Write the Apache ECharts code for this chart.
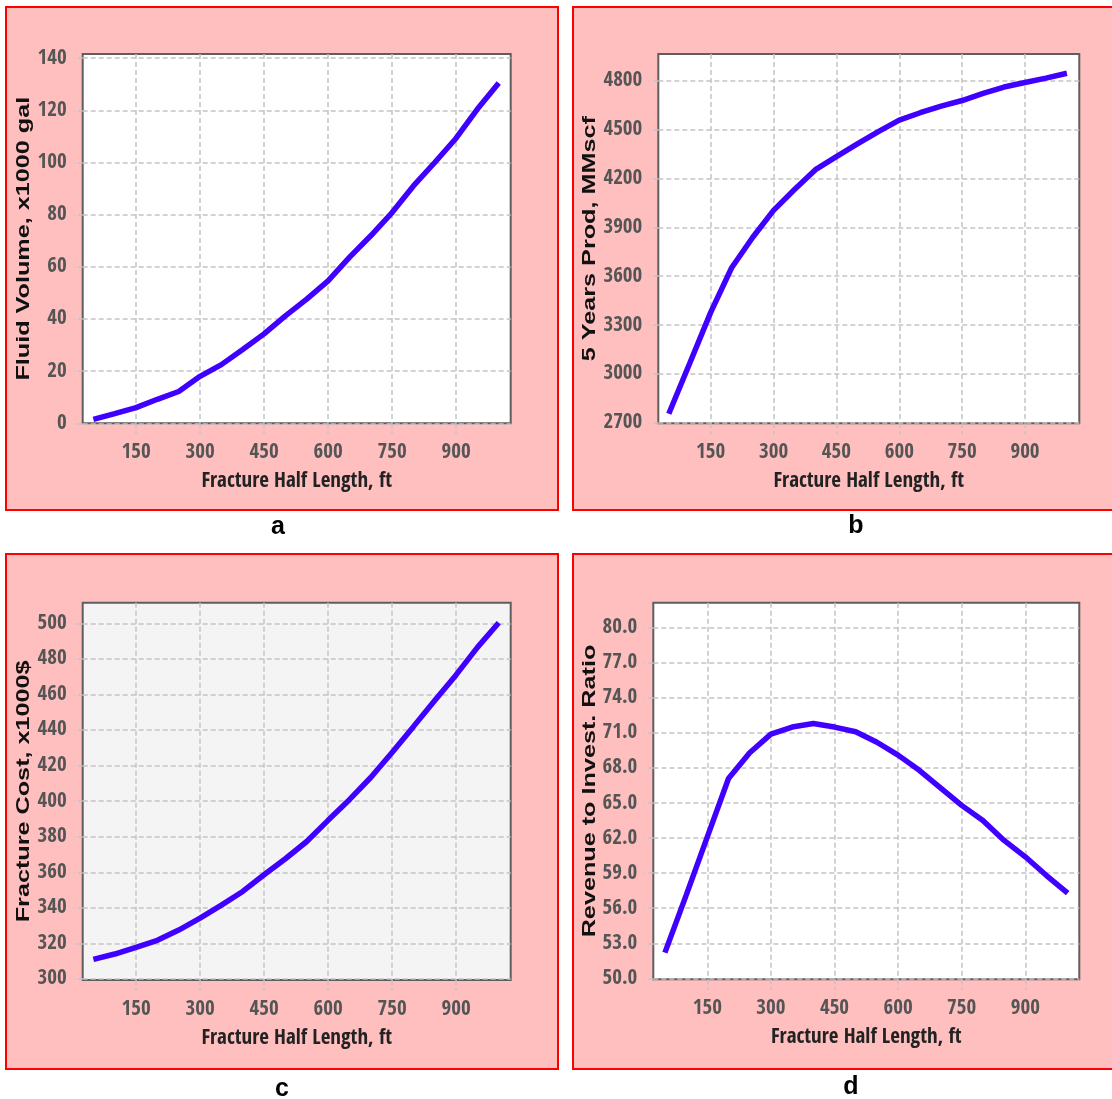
<!DOCTYPE html>
<html>
<head>
<meta charset="utf-8">
<title>Fracture half length sensitivity</title>
<script src="https://cdn.jsdelivr.net/npm/echarts@6/dist/echarts.min.js"></script>
<style>
  html, body { margin: 0; padding: 0; background: #fff; }
  #chart { width: 1112px; height: 1099px; }
</style>
</head>
<body>
<div id="chart"></div>
<script>
// fracture half length, ft (x for every panel)
const halfLength = [50, 100, 150, 200, 250, 300, 350, 400, 450, 500,
  550, 600, 650, 700, 750, 800, 850, 900, 950, 1000];

// a - fluid volume, x1000 gal
const fluidVolume = [1.5, 3.7, 6.0, 9.2, 12.2, 18.0, 22.5, 28.3, 34.3, 41.2,
  47.6, 54.6, 63.6, 71.9, 80.8, 91.0, 100.0, 109.3, 120.5, 130.5];
// b - 5 years production, MMscf
const prod5yr = [2755, 3065, 3378, 3652, 3838, 4005, 4133, 4255, 4335, 4413,
  4489, 4560, 4605, 4646, 4680, 4724, 4763, 4791, 4818, 4848];
// c - fracture cost, x1000$
const fracCost = [311, 314, 317.8, 321.7, 327.5, 334.2, 341.5, 349.2, 358.6, 367.6,
  377.3, 389.2, 400.8, 413.3, 427.4, 441.9, 456.6, 471, 486.5, 500.3];
// d - revenue to investment ratio
const revRatio = [52.2, 57.1, 62.1, 67.1, 69.3, 70.9, 71.5, 71.8, 71.5, 71.1,
  70.2, 69.1, 67.8, 66.3, 64.8, 63.5, 61.8, 60.4, 58.8, 57.3];

// tick labels
const xTicks = [150, 300, 450, 600, 750, 900];
const volumeTicks = [0, 20, 40, 60, 80, 100, 120, 140];
const prodTicks = [2700, 3000, 3300, 3600, 3900, 4200, 4500, 4800];
const costTicks = [300, 320, 340, 360, 380, 400, 420, 440, 460, 480, 500];
const ratioTicks = [50, 53, 56, 59, 62, 65, 68, 71, 74, 77, 80];

const narrow = '"Liberation Sans Narrow", "Noto Sans ExtraCondensed", "Noto Sans Condensed", ' +
  '"Open Sans Condensed", "DejaVu Sans Condensed", sans-serif';
const plain = '"Liberation Sans", Arial, sans-serif';
const lineColor = '#4000ff';
const gridLine = { color: '#c4c4c4', type: [5, 3], width: 1.5 };

const panels = [
  { box: [6, 7, 552, 503], grid: [82.7, 54, 428, 369.3], x: [25, 1028], y: [0, 141.6],
    ticks: volumeTicks, data: fluidVolume, bg: '#fff', title: 'Fluid Volume, x1000 gal',
    titleX: 24, letter: 'a', letterPos: [278, 527], fmt: v => String(v) },
  { box: [573, 7, 545, 503], grid: [658.3, 54, 421, 369.3], x: [25, 1029.6], y: [2696, 4966],
    ticks: prodTicks, data: prod5yr, bg: '#fff', title: '5 Years Prod, MMscf',
    titleX: 590, letter: 'b', letterPos: [856, 526], fmt: v => String(v) },
  { box: [6, 554, 552, 515], grid: [82.7, 602.7, 428, 377.3], x: [25, 1028], y: [299.4, 511.6],
    ticks: costTicks, data: fracCost, bg: '#f4f4f4', title: 'Fracture Cost, x1000$',
    titleX: 24, letter: 'c', letterPos: [282, 1089], fmt: v => String(v) },
  { box: [573, 554, 545, 515], grid: [653.3, 602.7, 426, 376.6], x: [22.6, 1027.4], y: [49.92, 82.14],
    ticks: ratioTicks, data: revRatio, bg: '#fff', title: 'Revenue to Invest. Ratio',
    titleX: 590, letter: 'd', letterPos: [851, 1087], fmt: v => v.toFixed(1) }
];

const grids = [], xAxes = [], yAxes = [], series = [], graphics = [];

panels.forEach((p, i) => {
  graphics.push({
    type: 'rect', z: -100, silent: true,
    shape: { x: p.box[0], y: p.box[1], width: p.box[2], height: p.box[3] },
    style: { fill: '#ffbfbf', stroke: '#ff0000', lineWidth: 2 }
  });
  graphics.push({
    type: 'text', z: 10, x: p.titleX, y: p.grid[1] + p.grid[3] / 2,
    rotation: Math.PI / 2, scaleX: 1.4,
    style: { text: p.title, font: 'bold 18px ' + plain, fill: '#111',
      textAlign: 'center', textVerticalAlign: 'middle', align: 'center', verticalAlign: 'middle' }
  });
  graphics.push({
    type: 'text', z: 10, x: p.letterPos[0], y: p.letterPos[1],
    style: { text: p.letter, font: 'bold 25px ' + plain, fill: '#000',
      textAlign: 'center', textVerticalAlign: 'middle', align: 'center', verticalAlign: 'middle' }
  });

  grids.push({
    left: p.grid[0], top: p.grid[1], width: p.grid[2], height: p.grid[3],
    show: true, backgroundColor: p.bg, borderColor: '#5e5e5e', borderWidth: 2
  });

  xAxes.push({
    type: 'value', gridIndex: i, min: p.x[0], max: p.x[1],
    name: 'Fracture Half Length, ft', nameLocation: 'middle', nameGap: 48,
    nameTextStyle: { fontFamily: narrow, fontWeight: 'bold', fontSize: 21, color: '#222' },
    axisLine: { show: false },
    axisTick: { show: true, length: 11, customValues: xTicks, lineStyle: gridLine },
    axisLabel: { customValues: xTicks, margin: 19, fontFamily: narrow, fontWeight: 'bold',
      fontSize: 21, color: '#555' },
    splitLine: { show: true, lineStyle: gridLine }
  });

  yAxes.push({
    type: 'value', gridIndex: i, min: p.y[0], max: p.y[1],
    axisLine: { show: false },
    axisTick: { show: true, length: 9, customValues: p.ticks, lineStyle: gridLine },
    axisLabel: { customValues: p.ticks, margin: 16, fontFamily: narrow, fontWeight: 'bold',
      fontSize: 21, color: '#555', formatter: p.fmt },
    splitLine: { show: true, lineStyle: gridLine }
  });

  series.push({
    type: 'line', xAxisIndex: i, yAxisIndex: i,
    data: halfLength.map((x, k) => [x, p.data[k]]),
    showSymbol: false, lineStyle: { color: lineColor, width: 5.5 },
    itemStyle: { color: lineColor }, z: 5
  });
});

const chart = echarts.init(document.getElementById('chart'), null, { renderer: 'canvas' });
chart.setOption({
  animation: false,
  backgroundColor: '#fff',
  grid: grids,
  xAxis: xAxes,
  yAxis: yAxes,
  series: series,
  graphic: { elements: graphics }
});
</script>
</body>
</html>
